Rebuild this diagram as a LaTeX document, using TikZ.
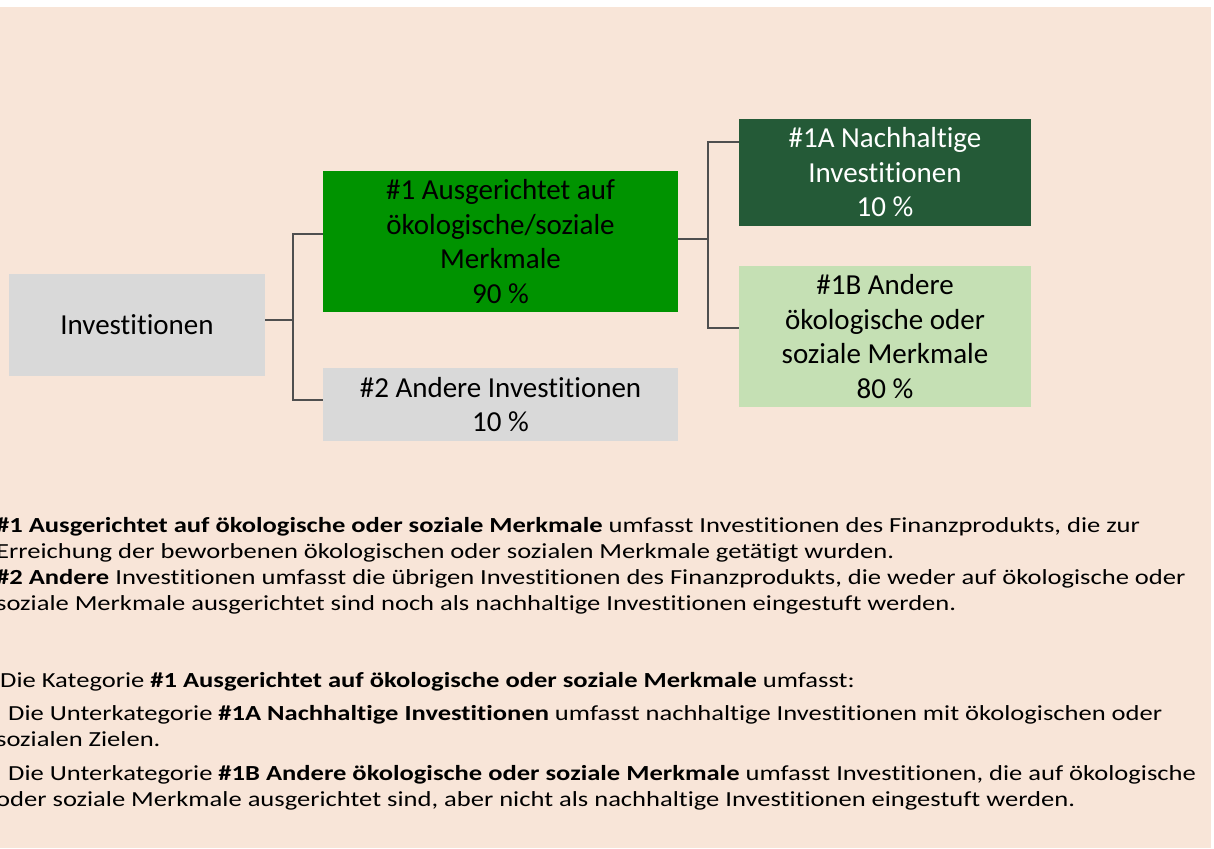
\documentclass[tikz,border=0pt]{standalone}
\usepackage{fontspec}
\setmainfont[Ligatures=NoCommon]{Carlito}
\newfontfamily\bodyfont[FakeStretch=1.235,Ligatures=NoCommon]{Carlito}
\usetikzlibrary{calc}
\definecolor{bgpeach}{HTML}{F8E5D8}
\definecolor{boxgray}{HTML}{D9D9D9}
\definecolor{boxgreen}{HTML}{009300}
\definecolor{boxdark}{HTML}{245A37}
\definecolor{boxlight}{HTML}{C5E0B4}
\definecolor{connline}{HTML}{4F4F4F}
\begin{document}
\begin{tikzpicture}[x=1pt,y=-1pt,
  box/.style={draw=none, inner sep=0pt, align=center, text=black,
    font=\fontsize{29}{34.5}\selectfont},
  conn/.style={draw=connline, line width=2pt},
  txt/.style={anchor=base west, inner sep=0pt, text=black,
    font=\bodyfont\fontsize{21.5}{26}\selectfont}]
\useasboundingbox (0,0) rectangle (1214,848);
\fill[white] (0,0) rectangle (1214,848);
\fill[bgpeach] (0,7) rectangle (1211,848);

\node[box, fill=boxgray, minimum width=256pt, minimum height=102pt] (inv) at (137,325) {Investitionen};
\node[box, fill=boxgreen, minimum width=355pt, minimum height=141pt] (a1) at (500.5,241.5)
  {\#1 Ausgerichtet auf\\ökologische/soziale\\Merkmale\\90 \%};
\node[box, fill=boxgray, minimum width=355pt, minimum height=73pt] (a2) at (500.5,404.5)
  {\#2 Andere Investitionen\\10 \%};
\node[box, fill=boxdark, text=white, minimum width=292pt, minimum height=107pt] (b1) at (885,172.5)
  {\#1A Nachhaltige\\Investitionen\\10 \%};
\node[box, fill=boxlight, minimum width=292pt, minimum height=141pt] (b2) at (885,336.5)
  {\#1B Andere\\ökologische oder\\soziale Merkmale\\80 \%};

\coordinate (j1) at ($([yshift=5pt]inv.east)+(28pt,0)$);
\coordinate (j2) at ($([yshift=2.5pt]a1.east)+(30pt,0)$);
\draw[conn] ([yshift=5pt]inv.east) -- (j1);
\draw[conn] ([yshift=7.5pt]a1.west) -| (j1) |- ([yshift=4.5pt]a2.west);
\draw[conn] ([yshift=2.5pt]a1.east) -- (j2);
\draw[conn] ([yshift=30.5pt]b1.west) -| (j2) |- ([yshift=8.5pt]b2.west);

\node[txt] (t1) at (-4,532) {\textbf{\#1 Ausgerichtet auf ökologische oder soziale Merkmale} umfasst Investitionen des Finanzprodukts, die zur};
\node[txt] (t2) at (-4,558) {Erreichung der beworbenen ökologischen oder sozialen Merkmale getätigt wurden.};
\node[txt] (t3) at (-4,584) {\textbf{\#2 Andere} Investitionen umfasst die übrigen Investitionen des Finanzprodukts, die weder auf ökologische oder};
\node[txt] (t4) at (-4,610) {soziale Merkmale ausgerichtet sind noch als nachhaltige Investitionen eingestuft werden.};
\node[txt] (t5) at (0,687) {Die Kategorie \textbf{\#1 Ausgerichtet auf ökologische oder soziale Merkmale} umfasst:};
\node[txt] (t6) at (8,720) {Die Unterkategorie \textbf{\#1A Nachhaltige Investitionen} umfasst nachhaltige Investitionen mit ökologischen oder};
\node[txt] (t7) at (-4,746) {sozialen Zielen.};
\node[txt] (t8) at (8,780) {Die Unterkategorie \textbf{\#1B Andere ökologische oder soziale Merkmale} umfasst Investitionen, die auf ökologische};
\node[txt] (t9) at (-4,806) {oder soziale Merkmale ausgerichtet sind, aber nicht als nachhaltige Investitionen eingestuft werden.};
\end{tikzpicture}
\end{document}
